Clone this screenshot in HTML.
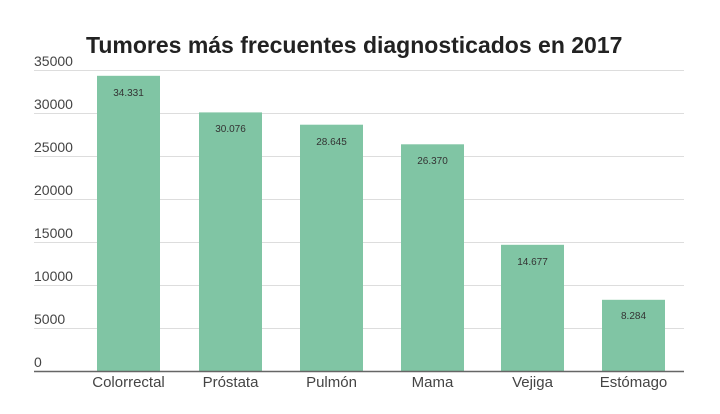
<!DOCTYPE html>
<html><head><meta charset="utf-8"><style>body{margin:0;background:#fff}</style></head><body>
<svg width="720" height="409" xmlns="http://www.w3.org/2000/svg" font-family="Liberation Sans, sans-serif">
<rect width="720" height="409" fill="#fff"/>
<text x="86" y="53" font-size="23" font-weight="bold" fill="#222">Tumores más frecuentes diagnosticados en 2017</text>
<g stroke="#ddd" stroke-width="1">
<line x1="34" x2="684" y1="70.5" y2="70.5"/><line x1="34" x2="684" y1="113.5" y2="113.5"/>
<line x1="34" x2="684" y1="156.5" y2="156.5"/><line x1="34" x2="684" y1="199.5" y2="199.5"/>
<line x1="34" x2="684" y1="242.5" y2="242.5"/><line x1="34" x2="684" y1="285.5" y2="285.5"/>
<line x1="34" x2="684" y1="328.5" y2="328.5"/>
</g>
<g font-size="14" fill="#444">
<text x="34" y="66">35000</text><text x="34" y="109">30000</text><text x="34" y="152">25000</text>
<text x="34" y="195">20000</text><text x="34" y="238">15000</text><text x="34" y="281">10000</text>
<text x="34" y="324">5000</text><text x="34" y="367">0</text>
</g>
<g fill="#80c5a4">
<rect x="97" y="75.8" width="63" height="295.2"/>
<rect x="199" y="112.4" width="63" height="258.6"/>
<rect x="300" y="124.7" width="63" height="246.3"/>
<rect x="401" y="144.3" width="63" height="226.7"/>
<rect x="501" y="244.8" width="63" height="126.2"/>
<rect x="602" y="299.8" width="63" height="71.2"/>
</g>
<line x1="34" x2="684" y1="371.5" y2="371.5" stroke="#666" stroke-width="1.5"/>
<g font-size="10" fill="#333" text-anchor="middle">
<text x="128.5" y="96">34.331</text><text x="230.5" y="132">30.076</text><text x="331.5" y="145">28.645</text>
<text x="432.5" y="164">26.370</text><text x="532.5" y="265">14.677</text><text x="633.5" y="319">8.284</text>
</g>
<g font-size="15" fill="#444" text-anchor="middle">
<text x="128.5" y="387">Colorrectal</text><text x="230.5" y="387">Próstata</text><text x="331.5" y="387">Pulmón</text>
<text x="432.5" y="387">Mama</text><text x="532.5" y="387">Vejiga</text><text x="633.5" y="387">Estómago</text>
</g>
</svg>
</body></html>
